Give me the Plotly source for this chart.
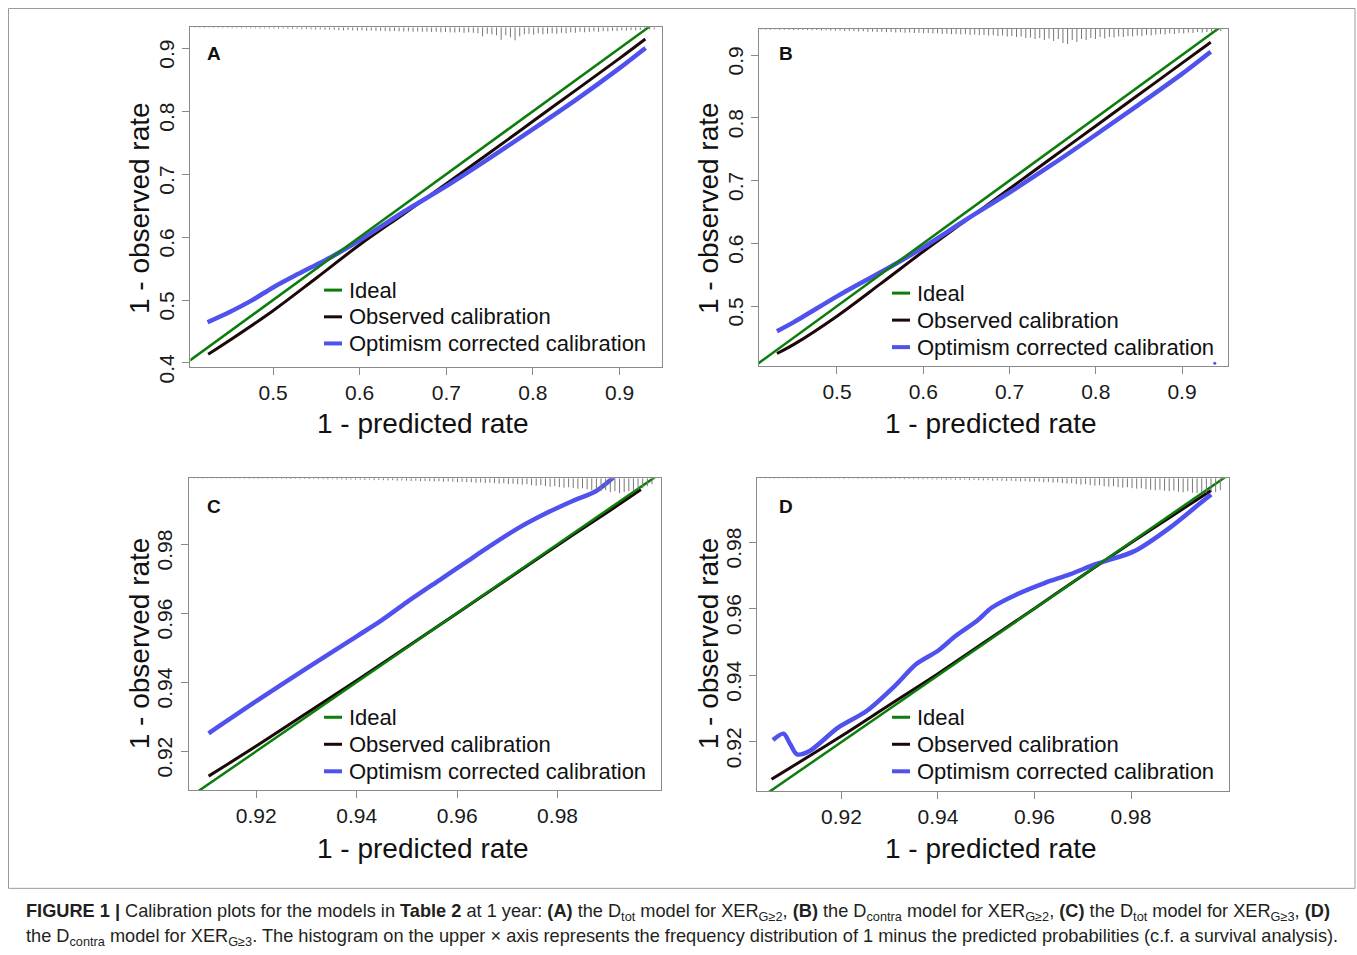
import numpy as np
import plotly.graph_objects as go

W, H = 1357, 955
FW, FH = 1357, 962      # figure size in page pixels
SY = 0.983              # vertical factor observed between page and captured picture

# ---------------- data ----------------
ideal_x = [0.0, 1.0]
ideal_y = [0.0, 1.0]

# Panel A
a_obs_x = [0.4251, 0.45, 0.5, 0.55, 0.6, 0.65, 0.7, 0.75, 0.8, 0.85, 0.9, 0.9298]
a_obs_y = [0.4137, 0.436, 0.483, 0.535, 0.5878, 0.636, 0.6847, 0.734, 0.784, 0.834, 0.884, 0.9148]
a_cor_x = [0.4244, 0.45, 0.475, 0.5, 0.525, 0.55, 0.5667, 0.6, 0.65, 0.7, 0.75, 0.8, 0.85, 0.9, 0.93]
a_cor_y = [0.4647, 0.481, 0.499, 0.52, 0.5385, 0.556, 0.568, 0.5947, 0.6395, 0.681, 0.7255, 0.7715, 0.8185, 0.8685, 0.9005]
a_hist_range = [0.41, 0.94]
a_hist = [0.5, 0.5, 0.7, 0.5, 0.7, 0.7, 0.8, 0.7, 1, 0.8,
          1, 0.8, 1, 1, 1.2, 1, 1.2, 1.3, 1.5, 1.3,
          1.5, 1.7, 1.5, 2, 1.8, 2, 2.2, 2, 2.5, 2.3,
          2.5, 2.8, 3, 2.7, 3, 3.3, 3, 3.5, 3.2, 3.6,
          3.5, 3.8, 4, 3.7, 4, 4.2, 4, 4.5, 4.2, 4.5,
          4.3, 4.8, 4.5, 5, 4.6, 5, 5.2, 4.8, 5.5, 5,
          5.5, 6, 9, 6.5, 7, 8, 12.5, 8, 10, 13,
          9, 7, 6.5, 7.5, 6, 7, 6.5, 6, 6.5, 5.5,
          6, 5, 5.5, 4.5, 5, 4.5, 4, 4.5, 3.8, 4,
          3.5, 3.8, 3, 3.2, 2.8, 3, 2.5, 2.8, 2.2, 2]

# Panel B
b_obs_x = [0.4304, 0.45, 0.5, 0.55, 0.6, 0.65, 0.7, 0.75, 0.8, 0.85, 0.9, 0.9333]
b_obs_y = [0.4245, 0.439, 0.484, 0.535, 0.587, 0.637, 0.687, 0.737, 0.787, 0.837, 0.887, 0.9202]
b_cor_x = [0.4304, 0.45, 0.5, 0.53, 0.56, 0.6, 0.65, 0.7, 0.75, 0.8, 0.85, 0.9, 0.9333]
b_cor_y = [0.46, 0.4745, 0.5155, 0.5385, 0.561, 0.5935, 0.638, 0.681, 0.726, 0.773, 0.821, 0.87, 0.9053]
b_dot_x = [0.938]
b_dot_y = [0.409]
b_hist_range = [0.412, 0.945]
b_hist = [0.5, 0.5, 0.7, 0.5, 0.8, 0.7, 0.8, 1, 0.8, 1,
          1, 1.2, 1, 1.5, 1.2, 1.5, 1.8, 1.5, 2, 1.8,
          2, 2.5, 2.2, 2.8, 2.5, 3, 2.7, 3.2, 3, 3.5,
          3.2, 3.8, 3.5, 4, 3.8, 4.3, 4, 4.5, 4.3, 5,
          4.7, 5.2, 5, 5.5, 5.2, 6, 5.5, 6.2, 6, 6.5,
          6.2, 7, 6.5, 7.5, 7, 8, 7.5, 9, 8.5, 10,
          9, 11, 9.5, 12, 10, 14, 15, 11, 13, 10,
          11, 9, 10, 8, 9.5, 8, 8.5, 7.5, 8, 7,
          7.5, 6.5, 7, 6, 6.5, 5.5, 5, 5.5, 4.5, 5,
          4, 4.5, 3.5, 4, 3, 3.5, 3, 2.5, 3, 2]

# Panel C
c_obs_x = [0.9105, 0.92, 0.93, 0.94, 0.95, 0.96, 0.97, 0.98, 0.99, 0.9966]
c_obs_y = [0.9128, 0.9215, 0.931, 0.9405, 0.9502, 0.96, 0.9698, 0.9797, 0.9893, 0.9958]
c_cor_x = [0.9105, 0.92, 0.93, 0.94, 0.945, 0.95, 0.9565, 0.9615, 0.9665, 0.972, 0.9778, 0.983, 0.9877, 0.9912]
c_cor_y = [0.9252, 0.9345, 0.944, 0.9533, 0.958, 0.9632, 0.9696, 0.9745, 0.9794, 0.9845, 0.989, 0.9925, 0.9954, 0.9994]
c_hist_range = [0.9075, 0.9988]
c_hist = [0.3, 0.3, 0.5, 0.3, 0.5, 0.3, 0.5, 0.5, 0.3, 0.5,
          0.5, 0.5, 0.7, 0.5, 0.7, 0.5, 0.7, 0.7, 0.5, 0.8,
          0.7, 0.8, 0.7, 1, 0.8, 1, 0.8, 1, 1, 1.2,
          1, 1.3, 1.2, 1.5, 1.3, 1.5, 1.5, 1.8, 1.5, 2,
          1.8, 2, 2.2, 2, 2.5, 2.2, 2.5, 2.8, 2.5, 3,
          2.8, 3, 3.2, 3, 3.5, 3.2, 3.5, 4, 3.6, 4,
          4, 4.5, 4.2, 5, 4.6, 5, 5.5, 5, 6, 5.5,
          6, 6.5, 6, 7, 7.5, 7, 8, 8.5, 8, 9,
          9.5, 9, 10, 10.5, 10, 11, 12, 11.5, 13, 12,
          14, 13, 15, 14, 13, 12, 11, 10, 8, 6]

# Panel D
d_obs_x = [0.9055, 0.92, 0.93, 0.94, 0.95, 0.96, 0.97, 0.98, 0.99, 0.9966]
d_obs_y = [0.9088, 0.9218, 0.9312, 0.9405, 0.9503, 0.9601, 0.970, 0.9798, 0.9893, 0.9955]
d_cor_x = [0.9058, 0.908, 0.9094, 0.9108, 0.9134, 0.9193, 0.9252, 0.9311, 0.9355, 0.94, 0.9437,
           0.9481, 0.9511, 0.9563, 0.9622, 0.9673, 0.9725, 0.9747, 0.9807, 0.988, 0.994, 0.9966]
d_cor_y = [0.9206, 0.9225, 0.9193, 0.9163, 0.9173, 0.9243, 0.9293, 0.9369, 0.9434, 0.9474, 0.9519,
           0.9564, 0.9603, 0.9643, 0.9678, 0.9703, 0.9733, 0.9743, 0.9773, 0.9843, 0.9913, 0.9943]
d_hist_range = [0.9032, 0.9985]
d_hist = [0.3, 0.3, 0.3, 0.5, 0.3, 0.3, 0.5, 0.3, 0.5, 0.3,
          0.5, 0.3, 0.5, 0.5, 0.3, 0.5, 0.5, 0.5, 0.7, 0.5,
          0.5, 0.7, 0.5, 0.7, 0.7, 0.5, 0.7, 0.8, 0.7, 0.8,
          0.8, 1, 0.8, 1, 1, 1.2, 1, 1.2, 1.3, 1.2,
          1.5, 1.3, 1.5, 1.7, 1.5, 2, 1.8, 2, 2.2, 2,
          2.5, 2.2, 2.5, 2.8, 2.5, 3, 3.2, 3, 3.5, 3.3,
          3.5, 4, 3.8, 4.5, 4.2, 5, 5.5, 5, 6, 6.5,
          6, 7, 7.5, 7, 8, 8.5, 8, 9, 9.5, 9,
          10, 10.5, 10, 11, 11.5, 12, 11.5, 12.5, 13, 12.5,
          13.5, 14, 13, 14.5, 15, 14, 14.5, 13.5, 14, 12]

ticks_ab_x = [0.5, 0.6, 0.7, 0.8, 0.9]
ticks_a_y = [0.4, 0.5, 0.6, 0.7, 0.8, 0.9]
ticks_b_y = [0.5, 0.6, 0.7, 0.8, 0.9]
ticks_cd = [0.92, 0.94, 0.96, 0.98]

legend_labels = ["Ideal", "Observed calibration", "Optimism corrected calibration"]
panel_letters = ["A", "B", "C", "D"]
x_title = "1 - predicted rate"
y_title = "1 - observed rate"

# ---------------- style ----------------
GREEN = "#0a7d0a"
BLACK = "#1c0808"
BLUE = "#5052ee"
GRAY = "#8a8a8a"
FONT = "Liberation Sans, Arial, Helvetica, sans-serif"


def px(x):
    return x / FW


def py(y):
    return 1 - (y / SY) / FH


panels = [
    dict(xr=[0.4046, 0.949], yr=[0.3938, 0.9334], box=(190.4, 662, 27.3, 366.7),
         xt=ticks_ab_x, yt=ticks_a_y, fmt="{:.1f}",
         obs=(a_obs_x, a_obs_y), cor=(a_cor_x, a_cor_y), hist=(a_hist_range, a_hist),
         leg=(324, 342, 347, [290, 316.7, 343.3]), lab=(214, 53), xtl=(423, 423), ytl=(139, 208)),
    dict(xr=[0.4096, 0.9533], yr=[0.4044, 0.9414], box=(759, 1228, 29, 366),
         xt=ticks_ab_x, yt=ticks_b_y, fmt="{:.1f}",
         obs=(b_obs_x, b_obs_y), cor=(b_cor_x, b_cor_y), hist=(b_hist_range, b_hist),
         leg=(892, 910, 915, [293, 320, 347]), lab=(786, 53), xtl=(991, 423), ytl=(708, 208)),
    dict(xr=[0.9065, 1.0005], yr=[0.9087, 0.9991], box=(188.5, 660.5, 478, 790),
         xt=ticks_cd, yt=ticks_cd, fmt="{:.2f}",
         obs=(c_obs_x, c_obs_y), cor=(c_cor_x, c_cor_y), hist=(c_hist_range, c_hist),
         leg=(324, 342, 347, [717, 744, 771]), lab=(214, 506), xtl=(423, 848), ytl=(139, 643)),
    dict(xr=[0.9025, 1.0003], yr=[0.9052, 0.9992], box=(757, 1229, 478, 791),
         xt=ticks_cd, yt=ticks_cd, fmt="{:.2f}",
         obs=(d_obs_x, d_obs_y), cor=(d_cor_x, d_cor_y), hist=(d_hist_range, d_hist),
         leg=(892, 910, 915, [717, 744, 771]), lab=(786, 506), xtl=(991, 848), ytl=(708, 643)),
]

fig = go.Figure()
annotations = []
shapes = []
layout = {}

for i, p in enumerate(panels, start=1):
    xa = "x" if i == 1 else f"x{i}"
    ya = "y" if i == 1 else f"y{i}"
    yh = f"y{i + 4}"
    x0, x1, y0, y1 = p["box"]
    plot_h = y1 - y0

    # histogram spikes hanging from the top frame
    (hlo, hhi), counts = p["hist"]
    centers = np.linspace(hlo, hhi, len(counts))
    hx, hy = [], []
    for c, h in zip(centers, counts):
        hx += [c, c, None]
        hy += [0, h, None]
    fig.add_trace(go.Scatter(x=hx, y=hy, xaxis=xa, yaxis=yh, mode="lines",
                             line=dict(color="#777777", width=1), showlegend=False,
                             hoverinfo="skip"))
    fig.add_trace(go.Scatter(x=p["obs"][0], y=p["obs"][1], xaxis=xa, yaxis=ya, mode="lines",
                             line=dict(color=BLACK, width=3, shape="spline"), showlegend=False))
    fig.add_trace(go.Scatter(x=p["cor"][0], y=p["cor"][1], xaxis=xa, yaxis=ya, mode="lines",
                             line=dict(color=BLUE, width=4.5, shape="spline", smoothing=0.8),
                             showlegend=False))
    fig.add_trace(go.Scatter(x=ideal_x, y=ideal_y, xaxis=xa, yaxis=ya, mode="lines",
                             line=dict(color=GREEN, width=2.5), showlegend=False))
    if i == 2:
        fig.add_trace(go.Scatter(x=b_dot_x, y=b_dot_y, xaxis=xa, yaxis=ya, mode="markers",
                                 marker=dict(color=BLUE, size=3), showlegend=False))

    axis_common = dict(showline=True, mirror=True, linecolor=GRAY, linewidth=1,
                       ticks="outside", ticklen=7, tickcolor=GRAY, tickwidth=1,
                       showgrid=False, zeroline=False,
                       tickfont=dict(family=FONT, size=21, color="#1a1a1a"))
    layout["xaxis" if i == 1 else f"xaxis{i}"] = dict(
        axis_common, domain=[px(x0), px(x1)], range=p["xr"], anchor=ya,
        tickvals=p["xt"], ticktext=[p["fmt"].format(v) for v in p["xt"]])
    layout["yaxis" if i == 1 else f"yaxis{i}"] = dict(
        axis_common, domain=[py(y1), py(y0)], range=p["yr"], anchor=xa,
        tickvals=p["yt"], ticktext=[p["fmt"].format(v) for v in p["yt"]], tickangle=-90,
        ticklabelshift=9)
    layout[f"yaxis{i + 4}"] = dict(domain=[py(y1), py(y0)], range=[plot_h, 0],
                                   overlaying=ya, anchor=xa, visible=False)

    # legend
    lx0, lx1, tx, rows = p["leg"]
    for lab, col, wdt, ry in zip(legend_labels, [GREEN, BLACK, BLUE], [3, 3, 4], rows):
        shapes.append(dict(type="line", xref="paper", yref="paper",
                           x0=px(lx0), x1=px(lx1), y0=py(ry), y1=py(ry),
                           line=dict(color=col, width=wdt)))
        annotations.append(dict(text=lab, xref="paper", yref="paper", x=px(tx), y=py(ry),
                                xanchor="left", yanchor="middle", showarrow=False,
                                font=dict(family=FONT, size=22, color="#111")))
    # panel letter
    annotations.append(dict(text=f"<b>{panel_letters[i - 1]}</b>", xref="paper", yref="paper",
                            x=px(p["lab"][0]), y=py(p["lab"][1]), xanchor="center", yanchor="middle",
                            showarrow=False, font=dict(family=FONT, size=19, color="#111")))
    # axis titles
    annotations.append(dict(text=x_title, xref="paper", yref="paper",
                            x=px(p["xtl"][0]), y=py(p["xtl"][1]), xanchor="center", yanchor="middle",
                            showarrow=False, font=dict(family=FONT, size=28, color="#111")))
    annotations.append(dict(text=y_title, xref="paper", yref="paper", textangle=-90,
                            x=px(p["ytl"][0]), y=py(p["ytl"][1]), xanchor="center", yanchor="middle",
                            showarrow=False, font=dict(family=FONT, size=28, color="#111")))

# outer frame
shapes.append(dict(type="rect", xref="paper", yref="paper", x0=px(8.5), x1=px(1355), y0=py(888), y1=py(8.5),
                   line=dict(color="#9a9a9a", width=1)))

caption1 = ("<b>FIGURE 1 |</b> Calibration plots for the models in <b>Table 2</b> at 1 year: "
            "<b>(A)</b> the D<sub>tot</sub> model for XER<sub>G\u22652</sub>, "
            "<b>(B)</b> the D<sub>contra</sub> model for XER<sub>G\u22652</sub>, "
            "<b>(C)</b> the D<sub>tot</sub> model for XER<sub>G\u22653</sub>, <b>(D)</b>")
caption2 = ("the D<sub>contra</sub> model for XER<sub>G\u22653</sub>. The histogram on the upper \u00d7 axis "
            "represents the frequency distribution of 1 minus the predicted probabilities "
            "(c.f. a survival analysis).")
CAPFONT = "Liberation Sans Narrow, Arial Narrow, Liberation Sans, sans-serif"
for txt, yy in [(caption1, 912), (caption2, 937)]:
    annotations.append(dict(text=txt, xref="paper", yref="paper", x=px(24), y=py(yy),
                            xanchor="left", yanchor="middle", showarrow=False,
                            font=dict(family=CAPFONT, size=18.2, color="#231f20")))

fig.update_layout(width=FW, height=FH, margin=dict(l=0, r=0, t=0, b=0),
                  paper_bgcolor="white", plot_bgcolor="white",
                  annotations=annotations, shapes=shapes, showlegend=False, **layout)

fig.write_html("out.html", config={"displayModeBar": False},
               post_script="document.body.style.margin='0';"
                           "document.body.style.overflow='hidden';"
                           "document.documentElement.style.overflow='hidden';"
                           "window.scrollTo(0,0);")
